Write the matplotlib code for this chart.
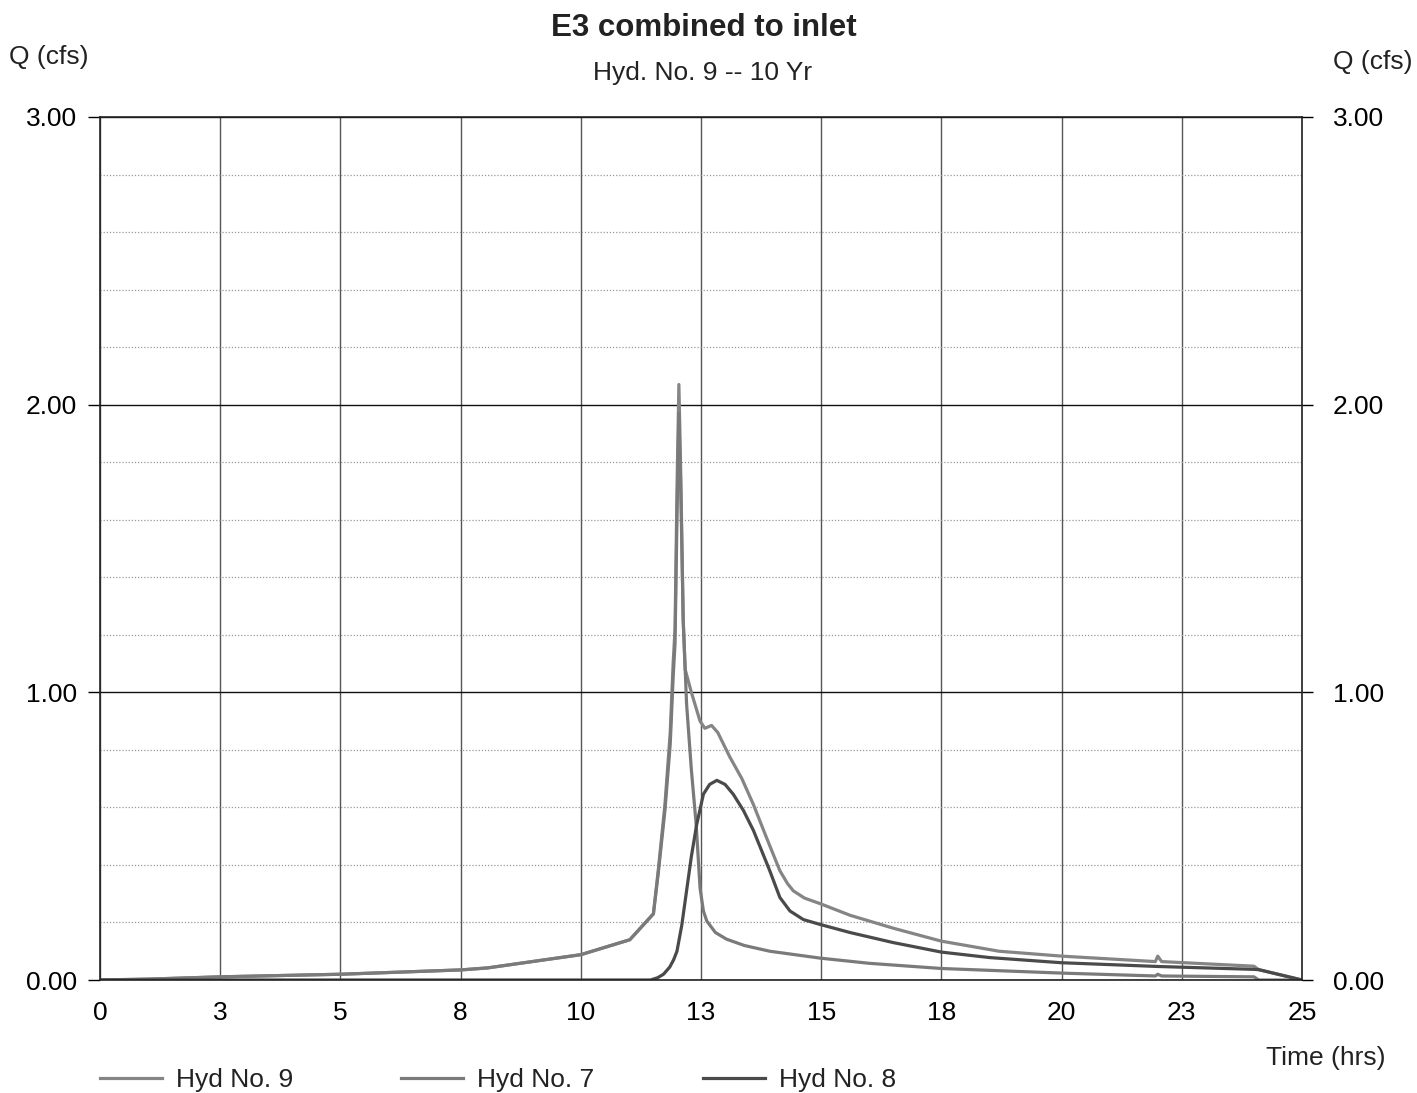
import matplotlib
matplotlib.use("Agg")
from matplotlib import pyplot as plt
from matplotlib.ticker import MultipleLocator

plt.rcParams['font.family'] = ['Liberation Sans', 'DejaVu Sans']

# Hyd No. 9 (combined)
t9 = [0, 1, 2.5, 5, 7.5, 8.06, 10, 11.02, 11.51, 11.61, 11.75, 11.86, 11.92, 11.96, 12.0,
      12.04, 12.08, 12.13, 12.17, 12.3, 12.48, 12.58, 12.72, 12.85, 13.1, 13.35, 13.59,
      13.85, 14.14, 14.3, 14.42, 14.65, 15, 15.6, 16.5, 17.5, 18.7, 20, 21.95, 22.0,
      22.08, 24.0, 24.1, 25]
q9 = [0, 0.003, 0.011, 0.02, 0.035, 0.042, 0.088, 0.14, 0.23, 0.38, 0.61, 0.86, 1.1, 1.22,
      1.7, 2.07, 1.75, 1.25, 1.08, 1.0, 0.9, 0.875, 0.885, 0.86, 0.775, 0.7, 0.61, 0.5,
      0.38, 0.335, 0.31, 0.285, 0.264, 0.225, 0.18, 0.135, 0.1, 0.083, 0.064, 0.083,
      0.064, 0.048, 0.036, 0.0]

# Hyd No. 7
t7 = [0, 1, 2.5, 5, 7.5, 8.06, 10, 11.02, 11.51, 11.61, 11.75, 11.86, 11.92, 11.96, 12.0,
      12.04, 12.08, 12.13, 12.2, 12.3, 12.4, 12.48, 12.55, 12.62, 12.8, 13.03, 13.4, 13.93,
      14.98, 16, 17.5, 20, 21.95, 22.0, 22.08, 24.0, 24.1, 25]
q7 = [0, 0.003, 0.011, 0.02, 0.035, 0.042, 0.088, 0.14, 0.23, 0.37, 0.59, 0.82, 1.05, 1.17,
      1.6, 1.97, 1.7, 1.25, 0.96, 0.73, 0.54, 0.32, 0.24, 0.205, 0.165, 0.142, 0.12, 0.10,
      0.076, 0.058, 0.04, 0.024, 0.014, 0.02, 0.014, 0.011, 0.0, 0.0]

# Hyd No. 8
t8 = [0, 11.45, 11.6, 11.72, 11.85, 11.93, 12.0, 12.1, 12.2, 12.3, 12.41, 12.55, 12.68,
      12.83, 13.0, 13.17, 13.38, 13.59, 13.76, 13.93, 14.14, 14.35, 14.63, 14.98, 15.6,
      16.5, 17.5, 18.5, 20, 22, 24, 24.1, 25]
q8 = [0, 0, 0.008, 0.02, 0.045, 0.07, 0.1, 0.19, 0.31, 0.43, 0.54, 0.646, 0.68, 0.694,
      0.68, 0.646, 0.59, 0.52, 0.45, 0.38, 0.287, 0.24, 0.21, 0.193, 0.165, 0.13, 0.097,
      0.078, 0.06, 0.047, 0.037, 0.036, 0.0]

xticks = [0, 2.5, 5, 7.5, 10, 12.5, 15, 17.5, 20, 22.5, 25]
xlabels = ["0", "3", "5", "8", "10", "13", "15", "18", "20", "23", "25"]
yticks = [0, 1, 2, 3]

fig = plt.figure(figsize=(14.17, 10.93), dpi=100)
ax = fig.add_axes([100/1417, 113/1093, 1202/1417, 863/1093])

ax.set_xlim(0, 25)
ax.set_ylim(0, 3)
ax.set_xticks(xticks)
ax.set_xticklabels(xlabels)
ax.set_yticks(yticks)
ax.set_yticklabels(["%.2f" % v for v in yticks])
ax.yaxis.set_minor_locator(MultipleLocator(0.2))

ax.grid(True, axis='x', which='major', color='#555555', lw=1.0)
ax.grid(True, axis='y', which='major', color='#111111', lw=1.0)
ax.grid(True, axis='y', which='minor', color='#999999', lw=0.9, ls=(0, (1, 1.5)))
ax.set_axisbelow(True)

ax.tick_params(axis='x', length=0, pad=15, labelsize=19)
ax.tick_params(axis='y', which='major', length=8.5, width=1, pad=8, labelsize=19)
ax.tick_params(axis='y', which='minor', length=0)
for s in ax.spines.values():
    s.set_color('#222222')
    s.set_linewidth(1.2)

l9, = ax.plot(t9, q9, color='#858585', lw=2.3, label='Hyd No. 9')
l7, = ax.plot(t7, q7, color='#7a7a7a', lw=2.3, label='Hyd No. 7')
l8, = ax.plot(t8, q8, color='#4a4a4a', lw=2.3, label='Hyd No. 8')

ax2 = ax.twinx()
ax2.set_ylim(0, 3)
ax2.set_yticks(yticks)
ax2.set_yticklabels(["%.2f" % v for v in yticks])
ax2.tick_params(axis='y', length=8, width=1, pad=14, labelsize=19)
for s in ax2.spines.values():
    s.set_visible(False)

fig.text(704/1417, 1 - 28/1093, "E3 combined to inlet", ha='center', va='center',
         fontsize=22.5, fontweight='bold', color='#222222')
fig.text(703/1417, 1 - 73/1093, "Hyd. No. 9 -- 10 Yr", ha='center', va='center',
         fontsize=19, color='#222222')
fig.text(9/1417, 1 - 57/1093, "Q (cfs)", ha='left', va='center', fontsize=19,
         color='#222222')
fig.text(1333/1417, 1 - 62/1093, "Q (cfs)", ha='left', va='center', fontsize=19,
         color='#222222')
fig.text(1386/1417, 1 - 1058/1093, "Time (hrs)", ha='right', va='center', fontsize=19,
         color='#222222')

fig.legend(handles=[l9, l7, l8], loc='center left',
           bbox_to_anchor=(100/1417, 1 - 1080/1093), ncol=3, frameon=False,
           fontsize=19, handlelength=2.35, handletextpad=0.53, columnspacing=4.1,
           borderpad=0, borderaxespad=0, labelcolor='#222222')

fig.savefig("out.png", dpi=100)
